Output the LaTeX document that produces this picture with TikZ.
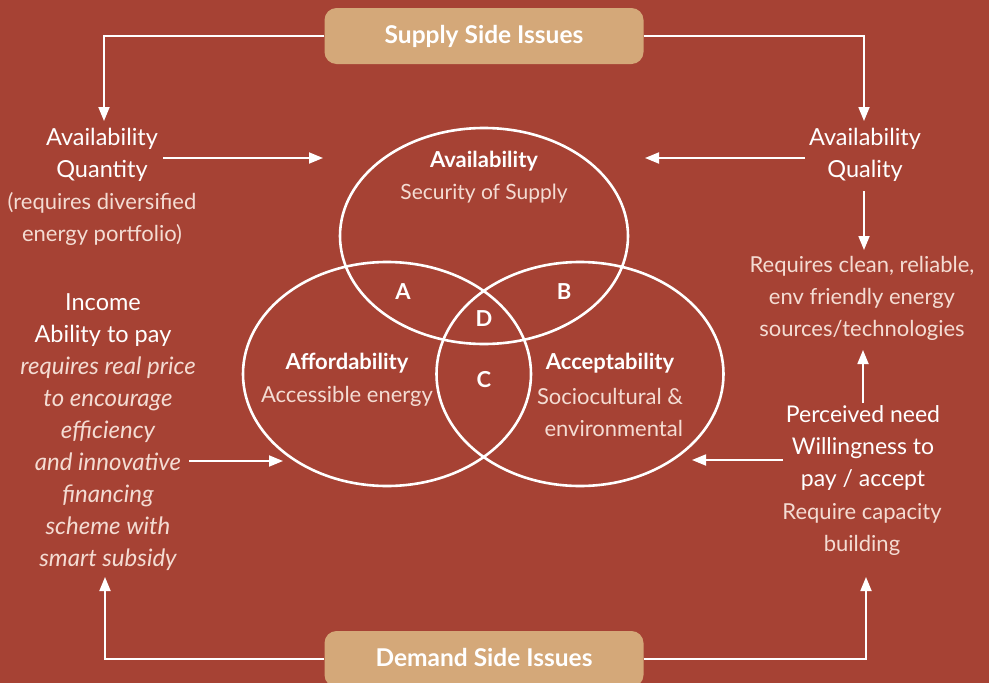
\documentclass[tikz,border=0pt]{standalone}
\usepackage{fontspec}
\setmainfont{Lato}
\usetikzlibrary{arrows.meta,shapes.geometric}
\definecolor{bg}{HTML}{A64234}
\definecolor{boxc}{HTML}{D4A879}
\definecolor{lt}{HTML}{F4DCD3}
\begin{document}
\begin{tikzpicture}[x=1pt,y=-1pt,
  conn/.style={draw=white, line width=1.8pt, -{Triangle[length=14pt,width=11pt]}},
  ell/.style={ellipse, draw=white, line width=2.6pt, inner sep=0pt},
  issue/.style={fill=boxc, rounded corners=12pt, minimum width=319pt, minimum height=56pt, inner sep=0pt, text=white, font=\bfseries\fontsize{24.5}{28}\selectfont},
  wtxt/.style={text=white, align=center, inner sep=0pt, font=\fontsize{23.5}{32}\selectfont},
  ltxt/.style={text=lt, align=center, inner sep=0pt, font=\fontsize{22}{32}\selectfont},
  itxt/.style={text=lt, align=center, inner sep=0pt, font=\itshape\fontsize{24}{32}\selectfont},
  btxt/.style={text=white, align=center, inner sep=0pt, font=\bfseries\fontsize{22}{32}\selectfont},
]
\fill[bg] (0,0) rectangle (989,683);
\useasboundingbox (0,0) rectangle (989,683);

% issue boxes
\node[issue] (supply) at (484,36) {\raisebox{3pt}{Supply Side Issues}};
\node[issue] (demand) at (484,659) {\raisebox{4pt}{Demand Side Issues}};

% ellipses
\node[ell, minimum width=288pt, minimum height=216pt] (eavail) at (484,236) {};
\node[ell, minimum width=288pt, minimum height=224pt] (eafford) at (387,374) {};
\node[ell, minimum width=287pt, minimum height=224pt] (eaccept) at (580,374) {};

% ellipse texts
\node[btxt] (tavail) at (484,161) {Availability};
\node[ltxt, font=\fontsize{21}{32}\selectfont] (tsec) at (484,194) {Security of Supply};
\node[btxt] (taff) at (347,363) {Affordability};
\node[ltxt] (tacc) at (347,396) {Accessible energy};
\node[btxt] (tacp) at (610,363) {Acceptability};
\node[ltxt, align=right] (tsoc) at (610,412) {Sociocultural \&\\environmental};
\node[btxt] (lA) at (403,292) {A};
\node[btxt] (lB) at (564,292) {B};
\node[btxt] (lD) at (484,319) {D};
\node[btxt] (lC) at (484,380) {C};

% left texts
\node[wtxt] (availQ) at (102,155) {Availability\\Quantity};
\node[ltxt] (divers) at (102,219) {(requires diversified\\energy portfolio)};
\node[wtxt] (income) at (103,320) {Income\\Ability to pay};
\node[itxt] (price) at (108,464) {requires real price\\to encourage\\efficiency\\and innovative\\financing\\scheme with\\smart subsidy};

% right texts
\node[wtxt] (availR) at (865,155) {Availability\\Quality};
\node[ltxt] (clean) at (862,298) {Requires clean, reliable,\\env friendly energy\\sources/technologies};
\node[wtxt, font=\fontsize{23}{32}\selectfont] (need) at (863,448) {Perceived need\\Willingness to\\pay / accept};
\node[ltxt] (capac) at (862,529) {Require capacity\\building};

% coordinates
\coordinate (tQL) at (104,121);
\coordinate (tQR) at (864,121);
\coordinate (sQ) at (163,158);
\coordinate (eQ) at (323,158);
\coordinate (sR) at (805,158);
\coordinate (eR) at (645,158);
\coordinate (sRd) at (864,191);
\coordinate (eRd) at (864,250);
\coordinate (sNu) at (863,403);
\coordinate (eNu) at (863,350);
\coordinate (sNl) at (783,460);
\coordinate (eNl) at (692,460);
\coordinate (sP) at (189,461);
\coordinate (eP) at (283,461);
\coordinate (tDL) at (105,577);
\coordinate (tDR) at (866,577);

% connectors
\draw[conn] (supply.west) -| (tQL);
\draw[conn] (supply.east) -| (tQR);
\draw[conn] (sQ) -- (eQ);
\draw[conn] (sR) -- (eR);
\draw[conn] (sRd) -- (eRd);
\draw[conn] (sNu) -- (eNu);
\draw[conn] (sNl) -- (eNl);
\draw[conn] (sP) -- (eP);
\draw[conn] (demand.west) -| (tDL);
\draw[conn] (demand.east) -| (tDR);
\end{tikzpicture}
\end{document}
